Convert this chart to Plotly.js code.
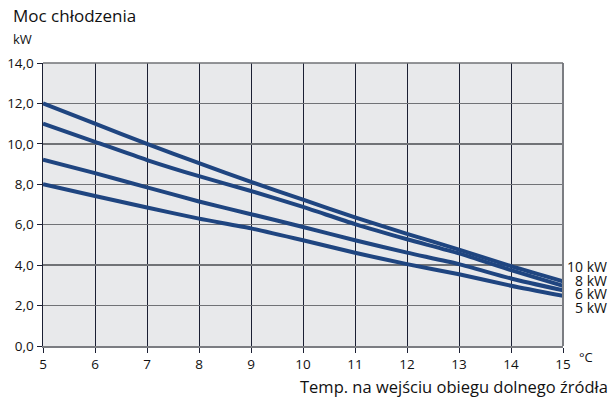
<!DOCTYPE html>
<html>
<head>
<meta charset="utf-8">
<script src="https://cdn.plot.ly/plotly-3.0.1.min.js"></script>
<style>html,body{margin:0;padding:0;background:#fff}#chart{width:612px;height:400px}</style>
</head>
<body>
<div id="chart"></div>
<script>
const temps = [5, 6, 7, 8, 9, 10, 11, 12, 13, 14, 15];
const kw10 = [12.0, 11.0, 10.0, 9.05, 8.12, 7.24, 6.36, 5.55, 4.77, 3.95, 3.2];
const kw8  = [11.0, 10.1, 9.2, 8.4, 7.67, 6.88, 6.03, 5.28, 4.58, 3.75, 2.97];
const kw6  = [9.22, 8.55, 7.85, 7.15, 6.52, 5.89, 5.23, 4.62, 4.05, 3.34, 2.75];
const kw5  = [8.0, 7.42, 6.85, 6.3, 5.82, 5.23, 4.61, 4.05, 3.55, 2.98, 2.48];
const seriesNames = ['10 kW', '8 kW', '6 kW', '5 kW'];
const xTicks = [5, 6, 7, 8, 9, 10, 11, 12, 13, 14, 15];
const yTicks = [0, 2, 4, 6, 8, 10, 12, 14];

const lineColor = '#1f4580';
const font = '"Open Sans", "Noto Sans", sans-serif';
const allSeries = [kw10, kw8, kw6, kw5];

const H = 400, W = 612, T = 63, B = 54, L = 43, R = 49;
const ph = H - T - B, pw = W - L - R;
const px = x => (x - L) / pw;          // pixel x -> paper
const py = y => (H - B - y) / ph;      // pixel y -> paper

const traces = allSeries.map((vals, i) => ({
  x: temps, y: vals, type: 'scatter', mode: 'lines', name: seriesNames[i],
  line: {color: lineColor, width: 4, shape: 'spline', smoothing: 0.6}, cliponaxis: false
}));

const labelPixY = [266, 280, 293, 307];
const annotations = seriesNames.map((n, i) => ({
  text: n, x: px(609), y: py(labelPixY[i]), xref: 'paper', yref: 'paper', xanchor: 'right', yanchor: 'middle',
  showarrow: false, font: {family: font, size: 14, color: '#111'}
}));
annotations.push({text: '°C', x: px(577), y: py(357), xref: 'paper', yref: 'paper', xanchor: 'left', yanchor: 'middle',
  showarrow: false, font: {family: font, size: 13, color: '#111'}});
annotations.push({text: 'Moc chłodzenia', x: px(11), y: py(16), xref: 'paper', yref: 'paper', xanchor: 'left', yanchor: 'middle',
  showarrow: false, font: {family: font, size: 17, color: '#111'}});
annotations.push({text: 'kW', x: px(11), y: py(39), xref: 'paper', yref: 'paper', xanchor: 'left', yanchor: 'middle',
  showarrow: false, font: {family: font, size: 13, color: '#111'}});
annotations.push({text: 'Temp. na wejściu obiegu dolnego źródła', x: px(610), y: py(386), xref: 'paper', yref: 'paper',
  xanchor: 'right', yanchor: 'middle', showarrow: false, font: {family: font, size: 16.5, color: '#111'}});

const layout = {
  width: W, height: H,
  margin: {l: L, r: R, t: T, b: B},
  paper_bgcolor: '#ffffff', plot_bgcolor: '#e8e9eb',
  showlegend: false,
  separators: ',.',
  font: {family: font, size: 13, color: '#111'},
  xaxis: {
    range: [5, 15], tickvals: xTicks, ticktext: xTicks.map(String),
    showgrid: true, gridcolor: '#1b1f33', gridwidth: 1,
    showline: true, linecolor: '#7b7d82', linewidth: 2,
    ticks: 'outside', ticklen: 5, tickcolor: '#1b1f33', tickwidth: 1,
    zeroline: false, tickfont: {family: font, size: 13.5, color: '#111'}, fixedrange: true
  },
  yaxis: {
    range: [0, 14], tickvals: yTicks, tickformat: '.1f',
    showgrid: true, gridcolor: '#707276', gridwidth: 1.5,
    showline: true, linecolor: '#1b1f33', linewidth: 1.5,
    ticks: 'outside', ticklen: 5, tickcolor: '#1b1f33', tickwidth: 1,
    zeroline: false, tickfont: {family: font, size: 13.5, color: '#111'}, fixedrange: true
  },
  shapes: [
    {type: 'line', xref: 'paper', yref: 'paper', x0: 1, x1: 1, y0: 0, y1: 1, line: {color: '#7b7d82', width: 2}},
    {type: 'line', xref: 'paper', yref: 'paper', x0: 0, x1: 1, y0: 1, y1: 1, line: {color: '#707276', width: 1.5}}
  ],
  annotations: annotations
};

Plotly.newPlot('chart', traces, layout, {staticPlot: true, displayModeBar: false});
</script>
</body>
</html>
